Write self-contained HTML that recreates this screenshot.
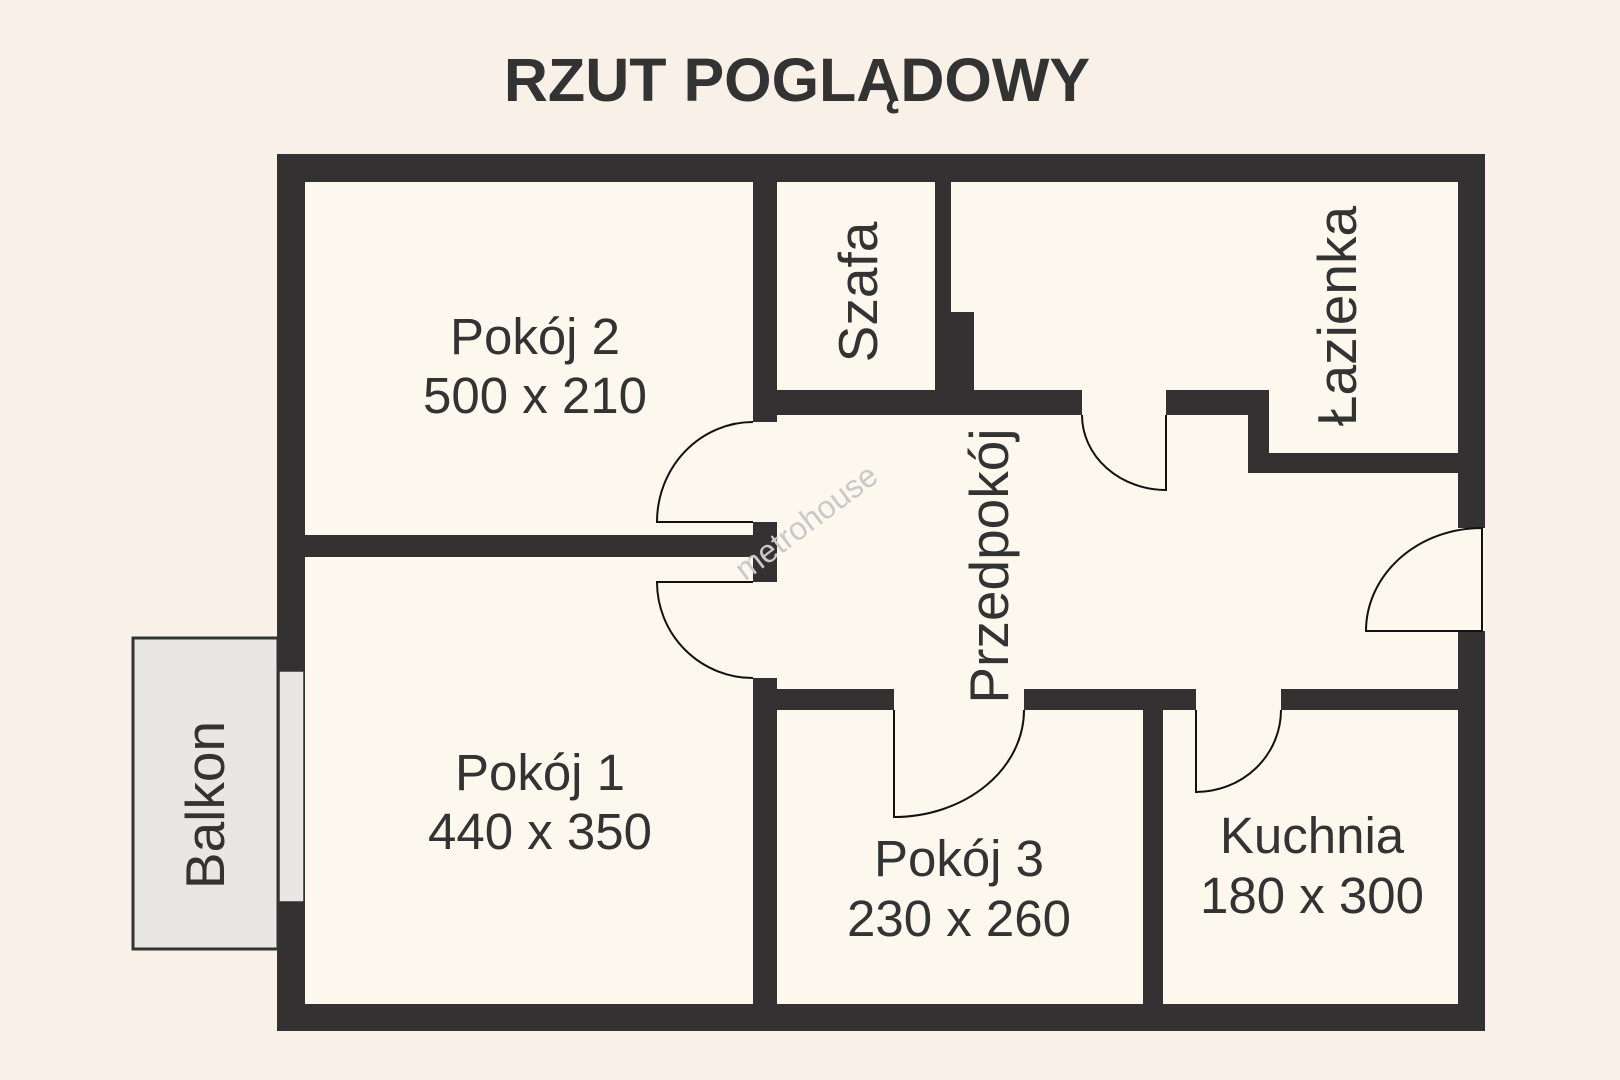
<!DOCTYPE html>
<html><head><meta charset="utf-8"><style>
html,body{margin:0;padding:0;background:#f9f1e8;}
svg{display:block;}
text{font-family:"Liberation Sans",sans-serif;fill:#333;}
</style></head><body>
<svg width="1620" height="1080" viewBox="0 0 1620 1080" xmlns="http://www.w3.org/2000/svg">
<rect width="1620" height="1080" fill="#f9f1e8"/>
<text x="797" y="101" text-anchor="middle" font-size="61" font-weight="bold">RZUT POGLĄDOWY</text>
<rect x="133" y="638" width="145" height="311" fill="#e8e7e3" stroke="#333" stroke-width="3"/>
<rect x="277" y="154" width="1208" height="877" fill="#333132"/>
<rect x="305" y="182" width="1153" height="822" fill="#fdf8ee"/>
<g fill="#333132">
<rect x="305" y="535" width="472" height="22"/>
<rect x="753" y="182" width="24" height="240"/>
<rect x="753" y="522" width="24" height="60"/>
<rect x="753" y="678" width="24" height="326"/>
<rect x="935" y="182" width="16" height="220"/>
<rect x="951" y="312" width="23" height="103"/>
<rect x="777" y="390" width="305" height="25"/>
<rect x="1166" y="390" width="103" height="25"/>
<rect x="1248" y="390" width="21" height="83"/>
<rect x="1248" y="453" width="210" height="20"/>
<rect x="777" y="689" width="117" height="21"/>
<rect x="1024" y="689" width="172" height="21"/>
<rect x="1281" y="689" width="177" height="21"/>
<rect x="1143" y="710" width="20" height="294"/>
</g>
<rect x="279" y="671" width="25" height="231" fill="#e8e7e3" stroke="#333" stroke-width="1.5"/>
<rect x="1458" y="528" width="27" height="103" fill="#fdf8ee"/>
<g fill="none" stroke="#111" stroke-width="2">
<path d="M753 522 H657 A96 100 0 0 1 753 422"/>
<path d="M753 582 H657 A96 96 0 0 0 753 678"/>
<path d="M1082 415 A84 75 0 0 0 1166 490 V415"/>
<path d="M1482 528 V631 H1366 A116 103 0 0 1 1482 528 Z"/>
<path d="M894 710 V817 A130 107 0 0 0 1024 710"/>
<path d="M1196 710 V792 A85 82 0 0 0 1281 710"/>
</g>
<text x="806" y="522" text-anchor="middle" dominant-baseline="central" font-size="32" style="fill:#c9c9c9" transform="rotate(-37 806 522)">metrohouse</text>
<g font-size="51" text-anchor="middle">
<text x="535" y="354">Pokój 2</text>
<text x="535" y="413">500 x 210</text>
<text x="540" y="790">Pokój 1</text>
<text x="540" y="849">440 x 350</text>
<text x="959" y="876">Pokój 3</text>
<text x="959" y="936">230 x 260</text>
<text x="1312" y="853">Kuchnia</text>
<text x="1312" y="913">180 x 300</text>
</g>
<g font-size="55" text-anchor="middle" dominant-baseline="central">
<text x="858" y="292" transform="rotate(-90 858 292)">Szafa</text>
<text x="989" y="566" transform="rotate(-90 989 566)">Przedpokój</text>
<text x="1337" y="316" transform="rotate(-90 1337 316)">Łazienka</text>
<text x="205" y="805" transform="rotate(-90 205 805)">Balkon</text>
</g>
</svg>
</body></html>
